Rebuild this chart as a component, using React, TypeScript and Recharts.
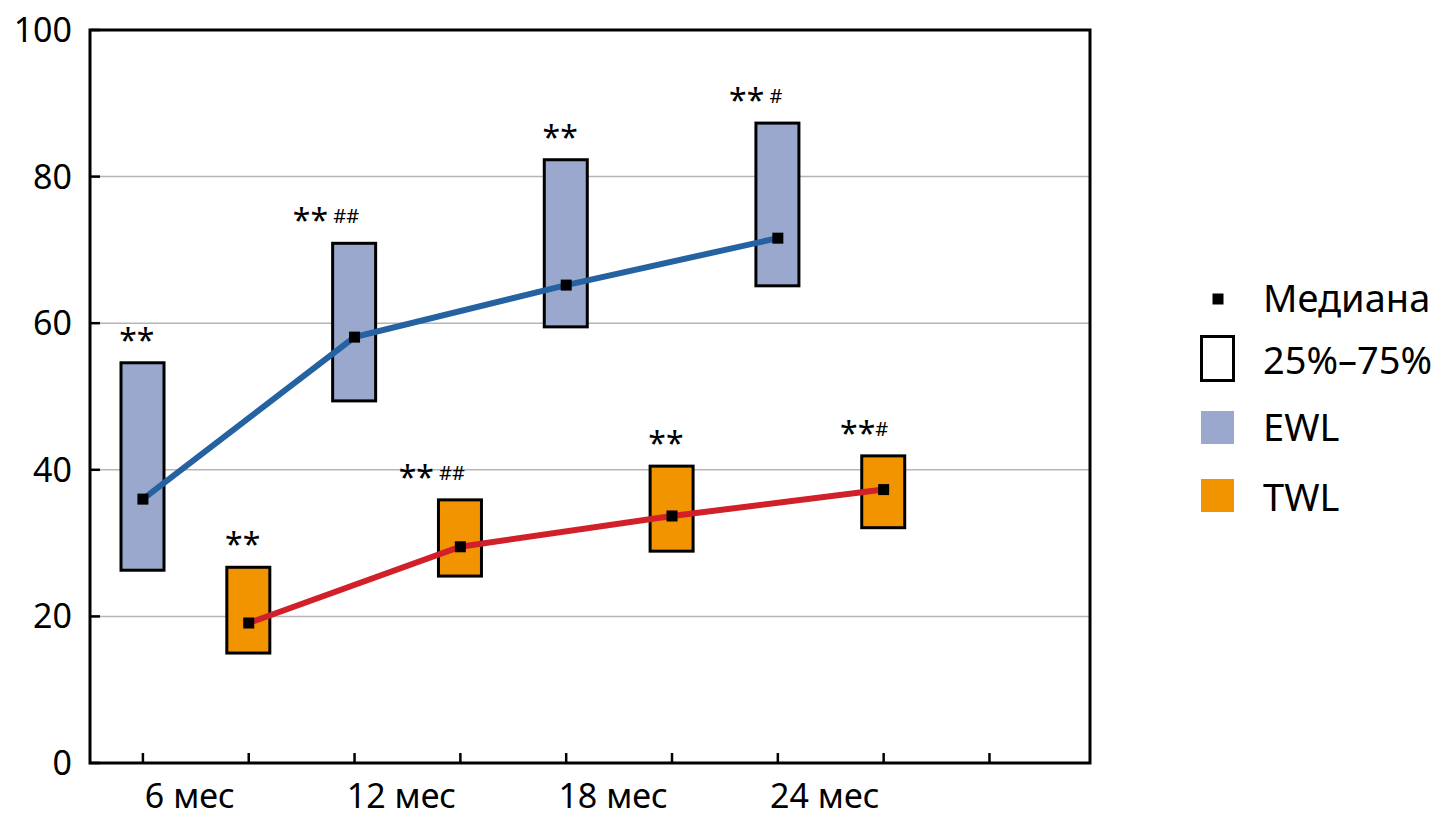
import { ComposedChart, Bar, Line, XAxis, YAxis, CartesianGrid, ReferenceArea, Legend } from "recharts";

const categories = ["6 мес", "12 мес", "18 мес", "24 мес"];
const ewlQ1 = [26.3, 49.4, 59.5, 65.1];
const ewlQ3 = [54.6, 70.9, 82.3, 87.3];
const ewlMedian = [36.0, 58.1, 65.2, 71.6];
const twlQ1 = [15.0, 25.5, 28.9, 32.1];
const twlQ3 = [26.7, 35.9, 40.5, 41.9];
const twlMedian = [19.1, 29.5, 33.7, 37.3];
const ewlStars = ["**", "**", "**", "**"];
const ewlHash = ["", " ##", "", " #"];
const twlStars = ["**", "**", "**", "**"];
const twlHash = ["", " ##", "", "#"];
const yTicks = [0, 20, 40, 60, 80, 100];
const legendLabels = ["Медиана", "25%–75%", "EWL", "TWL"];

const EWL_FILL = "#99a8cc";
const TWL_FILL = "#f29400";
const EWL_LINE = "#2462a1";
const TWL_LINE = "#d2202a";
const FONT = "'Noto Sans', 'Open Sans', sans-serif";

// each period takes two slots: EWL box then TWL box
const rows = categories.flatMap((c, i) => [
  { pos: 2 * i + 0.5, group: "EWL", range: [ewlQ1[i], ewlQ3[i]], ewl: ewlMedian[i], stars: ewlStars[i], hash: ewlHash[i] },
  { pos: 2 * i + 1.5, group: "TWL", range: [twlQ1[i], twlQ3[i]], twl: twlMedian[i], stars: twlStars[i], hash: twlHash[i] },
]);

const tickMarks = Array.from({ length: 9 }, (_, i) => i + 0.5);
const labelTicks = categories.map((_, i) => 2 * i + 1);
const xTicks = [...tickMarks, ...labelTicks].sort((a, b) => a - b);

function XTick({ x, y, payload }: any) {
  const v = payload.value;
  if (v % 1 !== 0) {
    return <line x1={x} x2={x} y1={y} y2={y - 10} stroke="#000" strokeWidth={2.5} />;
  }
  return (
    <text x={x - 6} y={y + 45} textAnchor="middle" fontSize={34} fontFamily={FONT} fill="#000">
      {categories[(v - 1) / 2]}
    </text>
  );
}

function YTick({ x, y, payload }: any) {
  return (
    <g>
      <line x1={x} x2={x + 10} y1={y} y2={y} stroke="#000" strokeWidth={2.5} />
      <text x={x - 18} y={y + 12} textAnchor="end" fontSize={34} fontFamily={FONT} fill="#000">
        {payload.value}
      </text>
    </g>
  );
}

function RightTick({ x, y }: any) {
  return <line x1={x - 10} x2={x} y1={y} y2={y} stroke="#000" strokeWidth={2.5} />;
}

function BoxShape(props: any) {
  const { x, y, width, height, payload } = props;
  const top = Math.min(y, y + height);
  const h = Math.abs(height);
  const fill = payload.group === "EWL" ? EWL_FILL : TWL_FILL;
  const ax = x + width / 2 + (payload.hash ? 5 : 12);
  return (
    <g>
      <rect x={x} y={top} width={width} height={h} fill={fill} stroke="#000" strokeWidth={3} />
      <text x={ax} y={top - 11} textAnchor="end" fontFamily={FONT} fill="#000" style={{ whiteSpace: "pre" }}>
        <tspan fontSize={32}>{payload.stars}</tspan>
        {payload.hash && (
          <tspan fontSize={20} dy={-9}>
            {payload.hash}
          </tspan>
        )}
      </text>
    </g>
  );
}

function MedianDot(p: any) {
  if (p.cy == null || p.value == null) return <g key={p.index} />;
  return <rect key={p.index} x={p.cx - 5.5} y={p.cy - 5.5} width={11} height={11} fill="#000" />;
}

function LegendBox() {
  const textY = [49.5, 111.5, 178.5, 248.5];
  return (
    <svg width={248} height={262} style={{ display: "block" }}>
      <rect x={22.5} y={31.5} width={11} height={11} fill="#000" />
      <rect x={11.5} y={74.5} width={32} height={44} fill="#fff" stroke="#000" strokeWidth={3} />
      <rect x={11} y={149} width={33} height={33} fill={EWL_FILL} />
      <rect x={11} y={217} width={33} height={33} fill={TWL_FILL} />
      {legendLabels.map((l, i) => (
        <text key={l} x={73} y={textY[i]} fontSize={38} fontFamily={FONT} fill="#000">
          {l}
        </text>
      ))}
    </svg>
  );
}

export default function App() {
  return (
    <div>
      <style>{"body{margin:0;background:#fff}"}</style>
      <ComposedChart width={1438} height={824} data={rows} margin={{ top: 30, right: 347, bottom: 60, left: 89 }}>
        <CartesianGrid vertical={false} stroke="#b5b5b5" strokeWidth={1.5} />
        <XAxis
          type="number"
          dataKey="pos"
          domain={[0, 9.45]}
          ticks={xTicks}
          interval={0}
          height={1}
          axisLine={false}
          tickLine={false}
          tickSize={0}
          tickMargin={0}
          tick={XTick}
          allowDataOverflow
        />
        <YAxis
          type="number"
          domain={[0, 100]}
          ticks={yTicks}
          interval={0}
          width={1}
          axisLine={false}
          tickLine={false}
          tickSize={0}
          tickMargin={0}
          tick={YTick}
        />
        <YAxis
          yAxisId="right"
          orientation="right"
          type="number"
          domain={[0, 100]}
          ticks={yTicks.slice(1, -1)}
          interval={0}
          width={1}
          axisLine={false}
          tickLine={false}
          tickSize={0}
          tickMargin={0}
          tick={RightTick}
        />
        <Bar dataKey="range" barSize={43} shape={BoxShape} isAnimationActive={false} />
        <Line
          dataKey="ewl"
          stroke={EWL_LINE}
          strokeWidth={6}
          connectNulls
          dot={MedianDot}
          activeDot={false}
          isAnimationActive={false}
        />
        <Line
          dataKey="twl"
          stroke={TWL_LINE}
          strokeWidth={6}
          connectNulls
          dot={MedianDot}
          activeDot={false}
          isAnimationActive={false}
        />
        <ReferenceArea x1={0} x2={9.45} y1={0} y2={100} fill="none" stroke="#000" strokeWidth={3} />
        <Legend
          layout="vertical"
          align="center"
          verticalAlign="middle"
          content={LegendBox}
          wrapperStyle={{ left: 1190, top: 262, width: 248 }}
        />
      </ComposedChart>
    </div>
  );
}
